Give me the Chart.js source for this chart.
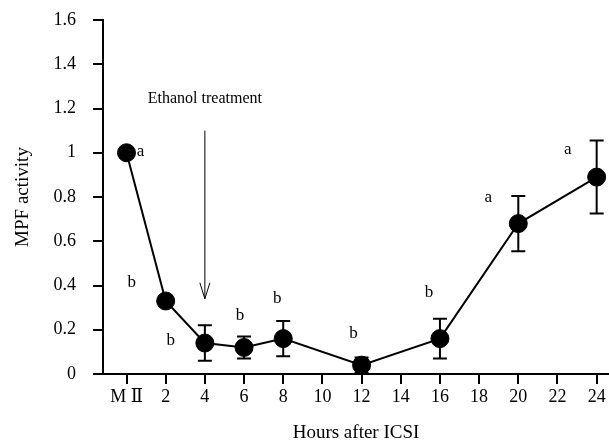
<!DOCTYPE html>
<html>
<head>
<meta charset="utf-8">
<script src="https://cdn.jsdelivr.net/npm/chart.js@4.4.1/dist/chart.umd.min.js"></script>
<style>
  html, body { margin: 0; padding: 0; background: #fff; }
  #wrap { width: 609px; height: 444px; }
</style>
</head>
<body>
<div id="wrap"><canvas id="canvas"></canvas></div>
<script>
"use strict";

// values
const hours = [0, 2, 4, 6, 8, 12, 16, 20, 24];
const mpfActivity = [1.0, 0.33, 0.14, 0.12, 0.16, 0.04, 0.16, 0.68, 0.89];
const mpfError = [0, 0, 0.08, 0.05, 0.08, 0.035, 0.09, 0.125, 0.165];
const groupLetters = ['a', 'b', 'b', 'b', 'b', 'b', 'b', 'a', 'a'];

const xTicks = [0, 2, 4, 6, 8, 10, 12, 14, 16, 18, 20, 22, 24];
const xTickLabels = ['M \u2161', '2', '4', '6', '8', '10', '12', '14', '16', '18', '20', '22', '24'];
const yTicks = [0, 0.2, 0.4, 0.6, 0.8, 1, 1.2, 1.4, 1.6];
const yTickLabels = ['0', '0.2', '0.4', '0.6', '0.8', '1', '1.2', '1.4', '1.6'];

const noteText = 'Ethanol treatment';
const noteHour = 4;
const noteArrowFrom = 1.1;
const noteArrowTo = 0.34;

const serif = "'Liberation Serif', 'DejaVu Serif', serif";

const extras = {
    id: 'extras',
    beforeDatasetsDraw(chart) {
        const ctx = chart.ctx;
        const xs = chart.scales.x, ys = chart.scales.y;
        ctx.save();
        ctx.strokeStyle = '#000';
        ctx.lineWidth = 2;
        hours.forEach(function (h, i) {
            const e = mpfError[i];
            if (!e) return;
            const px = xs.getPixelForValue(h);
            const top = ys.getPixelForValue(mpfActivity[i] + e);
            const bot = ys.getPixelForValue(mpfActivity[i] - e);
            ctx.beginPath();
            ctx.moveTo(px, top); ctx.lineTo(px, bot);
            ctx.moveTo(px - 7, top); ctx.lineTo(px + 7, top);
            ctx.moveTo(px - 7, bot); ctx.lineTo(px + 7, bot);
            ctx.stroke();
        });
        ctx.restore();
    },
    afterDatasetsDraw(chart) {
        const ctx = chart.ctx;
        const xs = chart.scales.x, ys = chart.scales.y;
        // letter offsets from each point, in pixels
        const off = [[14, -1], [-34, -18], [-34, -2], [-4, -32], [-6, -40], [-8, -32], [-11, -46], [-30, -26], [-29, -28]];
        ctx.save();
        ctx.fillStyle = '#000';
        ctx.font = '17px ' + serif;
        ctx.textAlign = 'center';
        ctx.textBaseline = 'middle';
        groupLetters.forEach(function (t, i) {
            const px = xs.getPixelForValue(hours[i]);
            const py = ys.getPixelForValue(mpfActivity[i]);
            ctx.fillText(t, px + off[i][0], py + off[i][1]);
        });

        // treatment note and arrow
        const ax = xs.getPixelForValue(noteHour);
        const a0 = ys.getPixelForValue(noteArrowFrom);
        const a1 = ys.getPixelForValue(noteArrowTo);
        ctx.font = '16px ' + serif;
        ctx.fillText(noteText, ax, a0 - 32);
        ctx.strokeStyle = '#000';
        ctx.lineWidth = 1;
        ctx.beginPath();
        ctx.moveTo(ax, a0); ctx.lineTo(ax, a1);
        ctx.moveTo(ax - 5, a1 - 16); ctx.lineTo(ax, a1); ctx.lineTo(ax + 5, a1 - 16);
        ctx.stroke();
        ctx.restore();
    }
};

function noEdgePadding(s) {
    s.paddingLeft = 0;
    s.paddingRight = 0;
    s.paddingTop = 0;
    s.paddingBottom = 0;
}

const ctx = document.getElementById('canvas').getContext('2d');
window.mpfChart = new Chart(ctx, {
    type: 'line',
    data: {
        datasets: [{
            label: 'MPF activity',
            data: hours.map(function (h, i) { return { x: h, y: mpfActivity[i] }; }),
            borderColor: '#000',
            borderWidth: 2,
            backgroundColor: '#000',
            pointBackgroundColor: '#000',
            pointBorderColor: '#000',
            pointRadius: 9,
            pointBorderWidth: 1,
            tension: 0,
            clip: false
        }]
    },
    options: {
        responsive: true,
        maintainAspectRatio: false,
        animation: false,
        layout: {
            autoPadding: false,
            padding: { top: 20, left: 0, right: 0, bottom: 0 }
        },
        plugins: {
            legend: { display: false },
            tooltip: { enabled: false }
        },
        scales: {
            x: {
                type: 'linear',
                min: -1.2,
                max: 24.63,
                afterBuildTicks: function (s) { s.ticks = xTicks.map(function (v) { return { value: v }; }); },
                afterFit: function (s) { s.height = 70; noEdgePadding(s); },
                border: { display: true, color: '#000', width: 2 },
                grid: { drawOnChartArea: false, drawTicks: true, tickLength: 10, color: '#000', lineWidth: 2 },
                ticks: {
                    color: '#000',
                    padding: 2,
                    maxRotation: 0,
                    autoSkip: false,
                    font: { family: serif, size: 18 },
                    callback: function (v) { return xTickLabels[xTicks.indexOf(v)]; }
                },
                title: {
                    display: true,
                    text: 'Hours after ICSI',
                    color: '#000',
                    font: { family: serif, size: 19 },
                    padding: { top: 0, bottom: 0 }
                }
            },
            y: {
                min: 0,
                max: 1.6,
                afterBuildTicks: function (s) { s.ticks = yTicks.map(function (v) { return { value: v }; }); },
                afterFit: function (s) { s.width = 103; noEdgePadding(s); },
                border: { display: true, color: '#000', width: 2 },
                grid: { drawOnChartArea: false, drawTicks: true, tickLength: 10, color: '#000', lineWidth: 2 },
                ticks: {
                    color: '#000',
                    padding: 17,
                    font: { family: serif, size: 18 },
                    callback: function (v) { return yTickLabels[yTicks.indexOf(v)]; }
                },
                title: {
                    display: true,
                    text: 'MPF activity',
                    color: '#000',
                    font: { family: serif, size: 19 },
                    padding: { top: 12, bottom: 0 }
                }
            }
        }
    },
    plugins: [extras]
});
</script>
</body>
</html>
